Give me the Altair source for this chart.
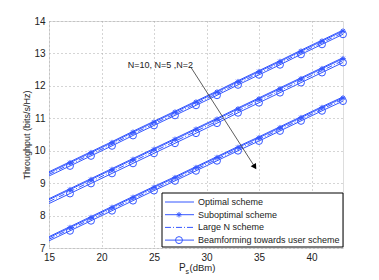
import altair as alt
import pandas as pd

# ---- data ----
ps = [15, 17, 19, 21, 23, 25, 27, 29, 31, 33, 35, 37, 39, 41, 43]

n10_opt = [9.35, 9.66, 9.97, 10.28, 10.60, 10.91, 11.22, 11.53, 11.84, 12.16, 12.47, 12.78, 13.10, 13.41, 13.72]
n10_sub = [9.32, 9.63, 9.94, 10.25, 10.57, 10.88, 11.19, 11.50, 11.81, 12.13, 12.44, 12.75, 13.07, 13.38, 13.69]
n10_lrg = [9.27, 9.58, 9.89, 10.20, 10.52, 10.83, 11.14, 11.45, 11.76, 12.08, 12.39, 12.70, 13.02, 13.33, 13.64]
n10_bf = [9.22, 9.53, 9.84, 10.15, 10.47, 10.78, 11.09, 11.40, 11.71, 12.03, 12.34, 12.65, 12.97, 13.28, 13.59]

n5_opt = [8.52, 8.83, 9.14, 9.45, 9.76, 10.07, 10.38, 10.69, 11.00, 11.32, 11.63, 11.94, 12.25, 12.56, 12.87]
n5_sub = [8.49, 8.80, 9.11, 9.42, 9.73, 10.04, 10.35, 10.66, 10.97, 11.29, 11.60, 11.91, 12.22, 12.53, 12.84]
n5_lrg = [8.43, 8.74, 9.05, 9.36, 9.67, 9.98, 10.29, 10.60, 10.91, 11.23, 11.54, 11.85, 12.16, 12.47, 12.78]
n5_bf = [8.37, 8.68, 8.99, 9.30, 9.61, 9.92, 10.23, 10.54, 10.85, 11.17, 11.48, 11.79, 12.10, 12.41, 12.72]

n2_opt = [7.35, 7.66, 7.97, 8.28, 8.59, 8.90, 9.20, 9.51, 9.82, 10.13, 10.43, 10.74, 11.05, 11.36, 11.66]
n2_sub = [7.32, 7.63, 7.94, 8.25, 8.56, 8.87, 9.17, 9.48, 9.79, 10.10, 10.40, 10.71, 11.02, 11.33, 11.63]
n2_lrg = [7.27, 7.58, 7.89, 8.20, 8.51, 8.82, 9.12, 9.43, 9.74, 10.05, 10.35, 10.66, 10.97, 11.28, 11.59]
n2_bf = [7.22, 7.53, 7.84, 8.15, 8.46, 8.77, 9.07, 9.38, 9.69, 10.00, 10.30, 10.61, 10.92, 11.23, 11.53]

schemes = ["Optimal scheme", "Suboptimal scheme", "Large N scheme", "Beamforming towards user scheme"]
groups = ["N=10", "N=5", "N=2"]
x_ticks = [15, 20, 25, 30, 35, 40]
y_ticks = [7, 8, 9, 10, 11, 12, 13, 14]
annotation = "N=10, N=5 ,N=2"
arrow_start = (28.5, 12.58)
arrow_tip = (34.8, 9.40)

series = {
    ("N=10", schemes[0]): n10_opt, ("N=10", schemes[1]): n10_sub,
    ("N=10", schemes[2]): n10_lrg, ("N=10", schemes[3]): n10_bf,
    ("N=5", schemes[0]): n5_opt, ("N=5", schemes[1]): n5_sub,
    ("N=5", schemes[2]): n5_lrg, ("N=5", schemes[3]): n5_bf,
    ("N=2", schemes[0]): n2_opt, ("N=2", schemes[1]): n2_sub,
    ("N=2", schemes[2]): n2_lrg, ("N=2", schemes[3]): n2_bf,
}

rows = []
for (g, s), vals in series.items():
    for x, y in zip(ps, vals):
        rows.append({"x": x, "y": y, "group": g, "scheme": s})
df = pd.DataFrame(rows)

BLUE = "#3557ff"
FONT = "Liberation Sans"
W, H = 294, 227
ASTERISK = "M-1,0L1,0M0,-1L0,1M-0.7,-0.7L0.7,0.7M-0.7,0.7L0.7,-0.7"

xs = alt.Scale(domain=[15, 43], nice=False, zero=False)
ys = alt.Scale(domain=[7, 14], nice=False, zero=False)
xaxis = alt.Axis(values=x_ticks, title=None, ticks=False, domain=False, labelFont=FONT, labelFontSize=10,
                 labelColor="#222", labelPadding=4, gridDash=[1, 3], gridColor="#aaaaaa",
                 labelFlush=False, labelOverlap=False)
yaxis = alt.Axis(values=y_ticks, title="Throughput (bits/s/Hz)", ticks=False, domain=False, labelFont=FONT,
                 labelFontSize=10, labelColor="#222", labelPadding=4, titleFont=FONT, titleFontSize=9,
                 titleFontWeight="normal", titleColor="#222", titlePadding=2, gridDash=[1, 3],
                 gridColor="#aaaaaa", labelOverlap=False, labelFlush=False)
X = alt.X("x:Q", scale=xs, axis=xaxis)
Y = alt.Y("y:Q", scale=ys, axis=yaxis)

base = alt.Chart(df)
line_opt = base.transform_filter(alt.datum.scheme == schemes[0]).mark_line(color=BLUE, strokeWidth=1).encode(x=X, y=Y, detail="group:N")
line_sub = base.transform_filter(alt.datum.scheme == schemes[1]).mark_line(color=BLUE, strokeWidth=1).encode(x=X, y=Y, detail="group:N")
line_lrg = base.transform_filter(alt.datum.scheme == schemes[2]).mark_line(color=BLUE, strokeWidth=1, strokeDash=[6, 2, 1, 2]).encode(x=X, y=Y, detail="group:N")
line_bf = base.transform_filter(alt.datum.scheme == schemes[3]).mark_line(color=BLUE, strokeWidth=1).encode(x=X, y=Y, detail="group:N")
pts_sub = base.transform_filter((alt.datum.scheme == schemes[1]) & (alt.datum.x > 15)).mark_point(
    shape=ASTERISK, size=30, stroke=BLUE, strokeWidth=1, filled=False, opacity=1).encode(x=X, y=Y)
pts_bf = base.transform_filter((alt.datum.scheme == schemes[3]) & (alt.datum.x > 15)).mark_point(
    shape="circle", size=48, stroke=BLUE, strokeWidth=1, filled=False, opacity=1).encode(x=X, y=Y)

one = pd.DataFrame({"a": [0]})
ann = alt.Chart(pd.DataFrame({"x": [22.5], "y": [12.64], "t": [annotation]})).mark_text(
    align="left", baseline="middle", font=FONT, fontSize=9, color="#222").encode(
    x=X, y=Y, text="t:N")

arr = pd.DataFrame({"x": [arrow_start[0]], "y": [arrow_start[1]], "x2": [arrow_tip[0] - 0.2], "y2": [arrow_tip[1] + 0.1]})
arrow_line = alt.Chart(arr).mark_rule(color="#333", strokeWidth=0.8).encode(
    x=X, y=Y, x2="x2:Q", y2="y2:Q")
head = alt.Chart(pd.DataFrame({"x": [arrow_tip[0] - 0.2], "y": [arrow_tip[1] + 0.1]})).mark_point(
    shape="triangle-down", size=40, filled=True, color="#000", opacity=1, angle=327).encode(
    x=X, y=Y)

# legend
lx0, lx1, ly0, ly1 = 113, 294, 172, 226
row_y = [181 + i * 12.7 for i in range(4)]
leg = pd.DataFrame({"label": schemes, "py": row_y, "i": range(4)})
PY = alt.Y("py:Q", scale=None)
leg_box = alt.Chart(one).mark_rect(fill="white", stroke="#000", strokeWidth=1).encode(
    x=alt.value(lx0), x2=alt.value(lx1), y=alt.value(ly0), y2=alt.value(ly1))
leg_lines = alt.Chart(leg).transform_filter(alt.datum.i != 2).mark_rule(color=BLUE, strokeWidth=1).encode(
    x=alt.value(116), x2=alt.value(145), y=PY)
leg_dash = alt.Chart(leg).transform_filter(alt.datum.i == 2).mark_rule(color=BLUE, strokeWidth=1, strokeDash=[6, 2, 1, 2]).encode(
    x=alt.value(116), x2=alt.value(145), y=PY)
leg_star = alt.Chart(leg).transform_filter(alt.datum.i == 1).mark_point(
    shape=ASTERISK, size=30, stroke=BLUE, strokeWidth=1, filled=False, opacity=1).encode(
    x=alt.value(130), y=PY)
leg_circ = alt.Chart(leg).transform_filter(alt.datum.i == 3).mark_point(
    shape="circle", size=48, stroke=BLUE, strokeWidth=1, filled=False, opacity=1).encode(
    x=alt.value(130), y=PY)
leg_text = alt.Chart(leg).mark_text(align="left", baseline="middle", font=FONT, fontSize=9, color="#222").encode(
    x=alt.value(149), y=PY, text="label:N")

# x-axis title: P with subscript s
xt_p = alt.Chart(one).mark_text(align="left", baseline="middle", font=FONT, fontSize=10, color="#222", text="P").encode(
    x=alt.value(130), y=alt.value(247))
xt_s = alt.Chart(one).mark_text(align="left", baseline="middle", font=FONT, fontSize=7, color="#222", text="s").encode(
    x=alt.value(136.5), y=alt.value(250.5))
xt_u = alt.Chart(one).mark_text(align="left", baseline="middle", font=FONT, fontSize=9.5, color="#222", text="(dBm)").encode(
    x=alt.value(140.5), y=alt.value(247))

chart = alt.layer(
    line_opt, line_sub, line_lrg, line_bf, pts_sub, pts_bf,
    ann, arrow_line, head,
    leg_box, leg_lines, leg_dash, leg_star, leg_circ, leg_text,
    xt_p, xt_s, xt_u,
).properties(
    width=W, height=H,
    autosize=alt.AutoSizeParams(type="none"),
    padding={"left": 41, "top": 13, "right": 28, "bottom": 32},
).configure_view(stroke="#333", strokeWidth=1).configure_axis(labelOverlap=False).configure(background="white")

chart.save("out.html", embed_options={"renderer": "svg", "actions": False})
